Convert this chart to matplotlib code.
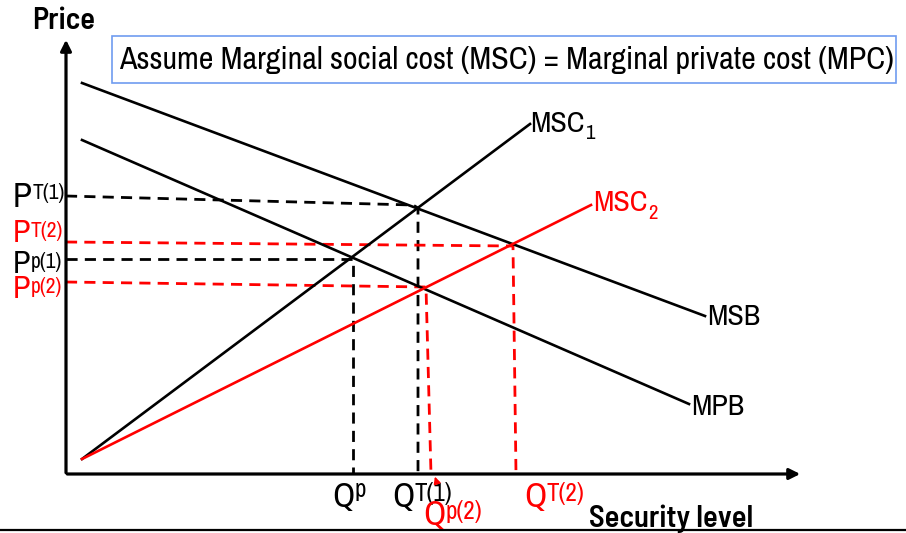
#!/usr/bin/env python3

import matplotlib
matplotlib.use('Agg')
import matplotlib.pyplot as plt
from matplotlib.patches import Rectangle

plt.rcParams['font.family'] = ['Archivo Narrow', 'DejaVu Sans']
BOLD = ['Barlow Semi Condensed', 'DejaVu Sans']

# diagram in (quantity, price) units, origin at the axes corner
msb_q, msb_p = [16, 639], [391, 158]
mpb_q, mpb_p = [16, 623], [334, 70]
msc1_q, msc1_p = [16, 464], [15, 350]
msc2_q, msc2_p = [16, 525], [15, 269]

# dashed guides: horizontal to the crossing, then down to the axis
pt1_q, pt1_p = [0, 347, 352, 352], [278, 269, 266, 0]
pt2_q, pt2_p = [0, 447, 447, 450], [232, 228, 228, 0]
pp1_q, pp1_p = [0, 287, 287], [215, 215, 0]
pp2_q, pp2_p = [0, 360, 360, 365], [192, 187, 187, 0]

title_txt = 'Assume Marginal social cost (MSC) = Marginal private cost (MPC)'

RED = '#ff0000'


def lbl(ax, x, y, base, sup, color, size, supsize, rise):
    # base letter, then a smaller raised (or lowered) part right after it
    t = ax.text(x, y, base, color=color, fontsize=size, ha='left', va='baseline')
    r = ax.figure.canvas.get_renderer()
    bb = t.get_window_extent(r)
    x1 = ax.transData.inverted().transform((bb.x1, bb.y0))[0]
    ax.text(x1 + 0.5, y + rise, sup, color=color, fontsize=supsize, ha='left', va='baseline')


def main():
    fig = plt.figure(figsize=(9.06, 5.33), dpi=100)
    ax = fig.add_axes([0, 0, 1, 1])
    ax.set_xlim(-66, 840)
    ax.set_ylim(-59, 474)
    ax.axis('off')

    # axes with arrows
    ax.annotate('', xy=(0, 437), xytext=(0, -1.5),
                arrowprops=dict(arrowstyle='-|>', lw=2.3, color='black', mutation_scale=16))
    ax.annotate('', xy=(737, 0), xytext=(-1.5, 0),
                arrowprops=dict(arrowstyle='-|>', lw=2.3, color='black', mutation_scale=16))
    ax.plot([-66, 840], [-56, -56], color='black', lw=1.6, clip_on=False)

    # dashed guides
    dash = (0, (4, 2.6))
    ax.plot(pt1_q, pt1_p, color='black', lw=2, linestyle=dash)
    ax.plot(pp1_q, pp1_p, color='black', lw=2, linestyle=dash)
    ax.plot(pt2_q, pt2_p, color=RED, lw=2, linestyle=dash)
    ax.plot(pp2_q, pp2_p, color=RED, lw=2, linestyle=dash)

    # curves
    ax.plot(msb_q, msb_p, color='black', lw=1.9)
    ax.plot(mpb_q, mpb_p, color='black', lw=1.9)
    ax.plot(msc1_q, msc1_p, color='black', lw=1.9)
    ax.plot(msc2_q, msc2_p, color=RED, lw=1.9)

    # curve labels
    lbl(ax, 464, 342, 'MSC', '1', 'black', 21.5, 15, -7)
    lbl(ax, 527, 263, 'MSC', '2', RED, 21.5, 15, -8)
    ax.text(641, 149, 'MSB', fontsize=21.5, ha='left', va='baseline')
    ax.text(625, 59, 'MPB', fontsize=21.5, ha='left', va='baseline')

    # price labels
    lbl(ax, -53, 267, 'P', 'T(1)', 'black', 25, 15.5, 8)
    lbl(ax, -53, 232, 'P', 'T(2)', RED, 23, 15.5, 5)
    lbl(ax, -53, 201, 'P', 'p(1)', 'black', 23, 15.5, 5)
    lbl(ax, -53, 176, 'P', 'p(2)', RED, 23, 15.5, 5)

    # quantity labels
    lbl(ax, 266, -33, 'Q', 'p', 'black', 25, 18, 10)
    lbl(ax, 326, -33, 'Q', 'T(1)', 'black', 25, 18, 6)
    lbl(ax, 357, -51, 'Q', 'p(2)', RED, 25, 18, 6)
    lbl(ax, 458, -33, 'Q', 'T(2)', RED, 25, 18, 6)
    ax.annotate('', xy=(368, 0), xytext=(371, -9),
                arrowprops=dict(arrowstyle='-|>', lw=1.2, color=RED, mutation_scale=10))

    # axis titles
    ax.text(-2, 453, 'Price', fontsize=22, family=BOLD, fontweight='semibold',
            ha='center', va='center')
    ax.text(605, -53, 'Security level', fontsize=22, family=BOLD, fontweight='semibold',
            ha='center', va='baseline')

    # assumption box
    ax.add_patch(Rectangle((46, 391), 784, 47, fill=False, edgecolor='#6f9cf0', lw=1.2))
    ax.text(440, 413.5, title_txt, fontsize=23, ha='center', va='center')

    fig.savefig('out.png', dpi=100)
    plt.close(fig)


if __name__ == '__main__':
    main()
